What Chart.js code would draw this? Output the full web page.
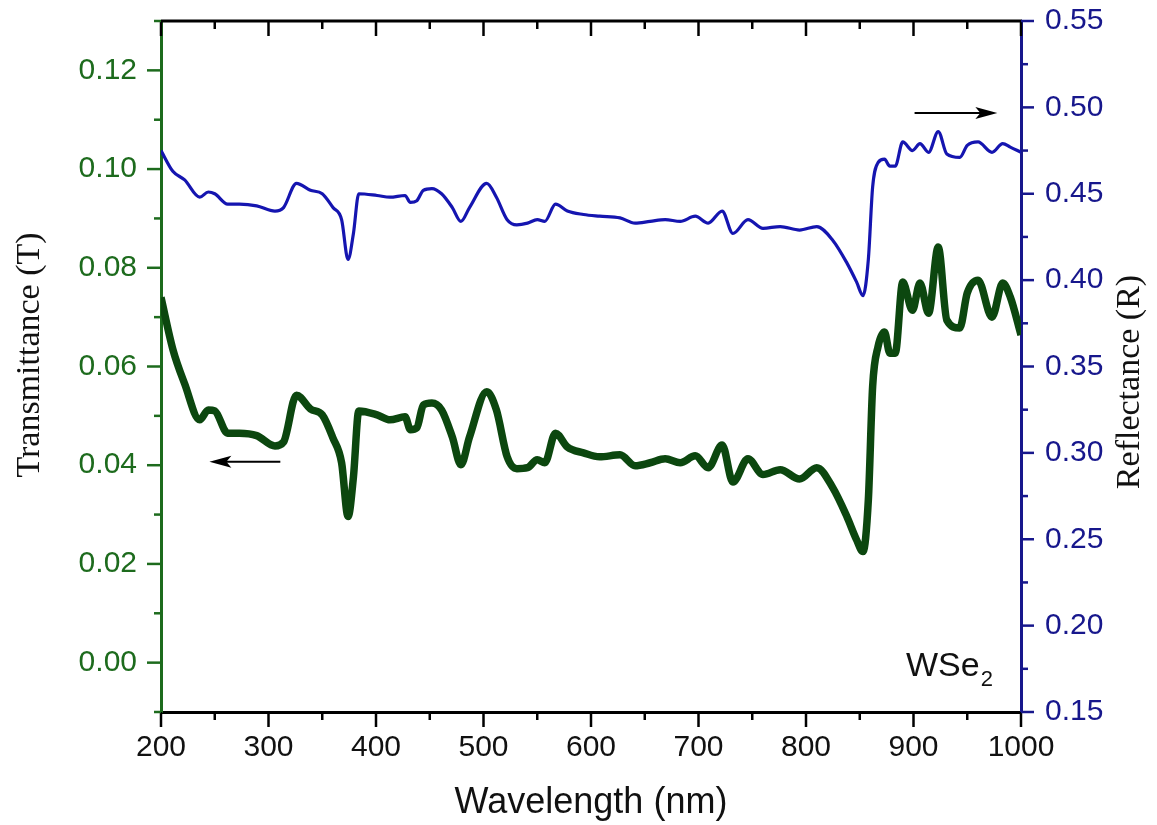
<!DOCTYPE html>
<html>
<head>
<meta charset="utf-8">
<script src="https://cdn.jsdelivr.net/npm/chart.js@4"></script>
<style>
  body { margin: 0; background: #fff; }
  canvas { display: block; }
</style>
</head>
<body>
<canvas id="chart" width="1157" height="825"></canvas>
<script>
// ----- DATA -----
const wavelength = [
  200, 211, 222, 236, 244, 250, 262, 273, 289, 306, 314, 326, 339, 350, 360, 368, 374, 379, 384,
  401, 413, 427, 432, 438, 444, 452, 461, 471, 479, 487, 503, 512, 522, 531, 541, 550, 557, 567,
  578, 593, 608, 627, 641, 655, 669, 683, 697, 709, 722, 732, 746, 760, 776, 794, 810, 825, 838,
  847, 853, 858, 862, 867, 873, 878, 883, 890, 899, 906, 914, 923, 931, 943, 950, 960, 973, 983,
  990, 1000
];

const transmittance = [
  0.0740, 0.0635, 0.0565, 0.0492, 0.0512, 0.0510, 0.0465, 0.0465, 0.0460, 0.0439, 0.0447, 0.0542,
  0.0514, 0.0502, 0.0455, 0.0405, 0.0296, 0.0376, 0.0510, 0.0502, 0.0492, 0.0498, 0.0472, 0.0476,
  0.0522, 0.0526, 0.0512, 0.0457, 0.0401, 0.0457, 0.0549, 0.0512, 0.0417, 0.0393, 0.0395, 0.0411,
  0.0405, 0.0465, 0.0437, 0.0425, 0.0417, 0.0421, 0.0399, 0.0405, 0.0413, 0.0405, 0.0419, 0.0395,
  0.0441, 0.0366, 0.0413, 0.0381, 0.0391, 0.0372, 0.0395, 0.0354, 0.0296, 0.0249, 0.0225, 0.0330,
  0.0560, 0.0640, 0.0670, 0.0627, 0.0627, 0.0771, 0.0714, 0.0769, 0.0708, 0.0842, 0.0694, 0.0678,
  0.0749, 0.0775, 0.0700, 0.0769, 0.0741, 0.0664
];

const reflectance = [
  0.475, 0.463, 0.458, 0.448, 0.451, 0.450, 0.444, 0.444, 0.443, 0.440, 0.442, 0.456,
  0.452, 0.450, 0.442, 0.435, 0.412, 0.427, 0.450, 0.449, 0.448, 0.449, 0.445, 0.446,
  0.452, 0.453, 0.450, 0.442, 0.434, 0.442, 0.456, 0.448, 0.435, 0.432, 0.433, 0.435,
  0.434, 0.444, 0.440, 0.438, 0.437, 0.436, 0.433, 0.434, 0.435, 0.434, 0.437, 0.433,
  0.440, 0.427, 0.435, 0.430, 0.431, 0.429, 0.431, 0.423, 0.410, 0.399, 0.391, 0.412,
  0.454, 0.468, 0.470, 0.466, 0.466, 0.480, 0.475, 0.479, 0.474, 0.486, 0.473, 0.471,
  0.478, 0.480, 0.474, 0.479, 0.477, 0.474
];

const xRange = [200, 1000];
const tRange = [-0.01, 0.13];
const rRange = [0.15, 0.55];

// ----- STYLE -----
const GREEN_AXIS = "#1d6b1d";
const GREEN_LINE = "#0c470f";
const BLUE_AXIS = "#17178c";
const BLUE_LINE = "#1515b0";
const SANS = "'Liberation Sans', Arial, sans-serif";
const SERIF = "'Liberation Serif', 'Times New Roman', serif";

const toPoints = (ys) => wavelength.map((x, i) => ({ x, y: ys[i] }));

// y scales: fixed width, no extra room asked for the end labels
const fixY = (w) => (s) => {
  s.width = w;
  s.paddingTop = 0;
  s.paddingBottom = 0;
};

// ticks, top frame line, arrows, axis titles, sample label
const decorations = {
  id: "decorations",
  afterDraw(chart) {
    const { ctx, chartArea: a, scales } = chart;
    const line = (x1, y1, x2, y2) => {
      ctx.beginPath();
      ctx.moveTo(x1, y1);
      ctx.lineTo(x2, y2);
      ctx.stroke();
    };
    ctx.save();

    // top frame
    ctx.strokeStyle = "#000";
    ctx.lineWidth = 3;
    line(a.left, a.top, a.right + 1, a.top);

    // x ticks (bottom outward, top inward)
    ctx.lineWidth = 2.5;
    scales.x.ticks.forEach((t) => {
      const px = scales.x.getPixelForValue(t.value);
      const len = t.value % 100 === 0 ? 15 : 8;
      line(px, a.bottom, px, a.bottom + len);
      line(px, a.top, px, a.top + len);
    });

    // left ticks
    ctx.strokeStyle = GREEN_AXIS;
    scales.y.ticks.forEach((t) => {
      const py = scales.y.getPixelForValue(t.value);
      const len = Math.round(t.value * 100) % 2 === 0 ? 14 : 7;
      line(a.left, py, a.left - len, py);
    });

    // right ticks
    ctx.strokeStyle = BLUE_AXIS;
    scales.y1.ticks.forEach((t) => {
      const py = scales.y1.getPixelForValue(t.value);
      const len = Math.round(t.value * 1000) % 50 === 0 ? 13 : 7;
      line(a.right, py, a.right + len, py);
    });

    // arrows
    const arrow = (x1, y1, x2, y2) => {
      ctx.strokeStyle = "#000";
      ctx.fillStyle = "#000";
      ctx.lineWidth = 2;
      const dir = Math.sign(x2 - x1);
      line(x1, y1, x2 - dir * 16, y2);
      ctx.beginPath();
      ctx.moveTo(x2, y2);
      ctx.lineTo(x2 - dir * 22, y2 - 6);
      ctx.lineTo(x2 - dir * 17, y2);
      ctx.lineTo(x2 - dir * 22, y2 + 6);
      ctx.closePath();
      ctx.fill();
    };
    const ty = scales.y.getPixelForValue(0.0407);
    arrow(scales.x.getPixelForValue(311), ty, scales.x.getPixelForValue(245), ty);
    const ry = scales.y1.getPixelForValue(0.4968);
    arrow(scales.x.getPixelForValue(901), ry, scales.x.getPixelForValue(978), ry);

    // sample label
    ctx.fillStyle = "#111";
    ctx.textBaseline = "alphabetic";
    ctx.textAlign = "left";
    ctx.font = "34px " + SANS;
    const lx = scales.x.getPixelForValue(893);
    const ly = scales.y.getPixelForValue(-0.0028);
    ctx.fillText("WSe", lx, ly);
    const w = ctx.measureText("WSe").width;
    ctx.font = "22px " + SANS;
    ctx.fillText("2", lx + w + 1, ly + 10);

    // axis titles
    ctx.fillStyle = "#111";
    ctx.textAlign = "center";
    ctx.textBaseline = "middle";
    ctx.font = "36px " + SANS;
    ctx.fillText("Wavelength (nm)", (a.left + a.right) / 2, 803);

    ctx.font = "34px " + SERIF;
    ctx.save();
    ctx.translate(30, 355);
    ctx.rotate(-Math.PI / 2);
    ctx.fillText("Transmittance (T)", 0, 0);
    ctx.restore();

    ctx.save();
    ctx.translate(1130, 382);
    ctx.rotate(-Math.PI / 2);
    ctx.fillText("Reflectance (R)", 0, 0);
    ctx.restore();

    ctx.restore();
  }
};

const chart = new Chart(document.getElementById("chart").getContext("2d"), {
  type: "line",
  data: {
    datasets: [
      {
        label: "Reflectance (R)",
        data: toPoints(reflectance),
        yAxisID: "y1",
        borderColor: BLUE_LINE,
        borderWidth: 3.2,
        pointRadius: 0,
        cubicInterpolationMode: "monotone"
      },
      {
        label: "Transmittance (T)",
        data: toPoints(transmittance),
        yAxisID: "y",
        borderColor: GREEN_LINE,
        borderWidth: 7.5,
        pointRadius: 0,
        cubicInterpolationMode: "monotone"
      }
    ]
  },
  options: {
    responsive: false,
    animation: false,
    devicePixelRatio: 1,
    layout: { padding: { top: 21 } },
    plugins: { legend: { display: false }, tooltip: { enabled: false } },
    scales: {
      x: {
        type: "linear",
        position: "bottom",
        min: xRange[0],
        max: xRange[1],
        afterFit: (s) => {
          s.height = 113;
          s.paddingLeft = 0;
          s.paddingRight = 0;
        },
        grid: { display: false, drawTicks: false },
        border: { display: true, color: "#000", width: 3 },
        ticks: {
          stepSize: 50,
          padding: 18,
          autoSkip: false,
          maxRotation: 0,
          color: "#111",
          font: { family: SANS, size: 30 },
          callback: (v) => (v % 100 === 0 ? String(v) : "")
        }
      },
      y: {
        type: "linear",
        position: "left",
        min: tRange[0],
        max: tRange[1],
        afterFit: fixY(161),
        grid: { display: false, drawTicks: false },
        border: { display: true, color: GREEN_AXIS, width: 3 },
        ticks: {
          stepSize: 0.01,
          padding: 24,
          autoSkip: false,
          color: GREEN_AXIS,
          font: { family: SANS, size: 30 },
          callback: (v) => (Math.round(v * 100) % 2 === 0 ? v.toFixed(2) : "")
        }
      },
      y1: {
        type: "linear",
        position: "right",
        min: rRange[0],
        max: rRange[1],
        afterFit: fixY(136),
        grid: { display: false, drawTicks: false },
        border: { display: true, color: BLUE_AXIS, width: 3 },
        ticks: {
          stepSize: 0.025,
          padding: 24,
          autoSkip: false,
          color: BLUE_AXIS,
          font: { family: SANS, size: 30 },
          callback: (v) => (Math.round(v * 1000) % 50 === 0 ? v.toFixed(2) : "")
        }
      }
    }
  },
  plugins: [decorations]
});
</script>
</body>
</html>
